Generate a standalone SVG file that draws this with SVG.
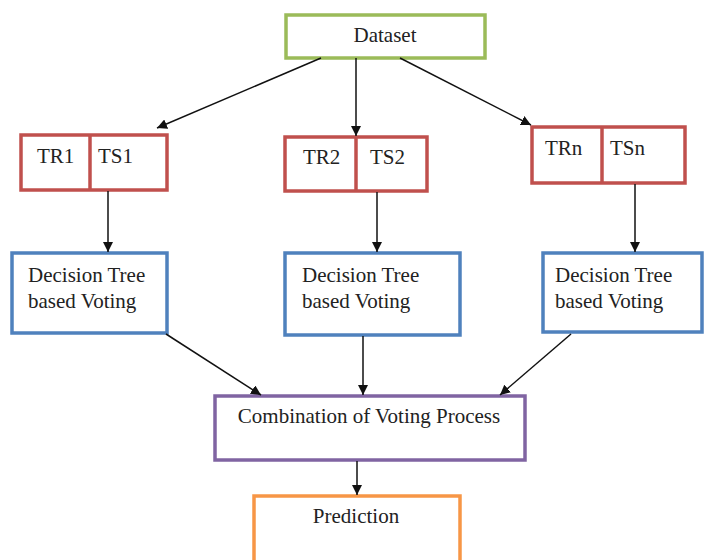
<svg xmlns="http://www.w3.org/2000/svg" width="705" height="560" viewBox="0 0 705 560">
<style>
.box{fill:#fff;stroke-width:3.5}
.g{stroke:#9BBB59}.r{stroke:#C0504D}.b{stroke:#4F81BD}.p{stroke:#8064A2}.o{stroke:#F79646}
text{font-family:"Liberation Serif","Times New Roman",serif;font-size:21px;fill:#222}
.c line{stroke:#111;stroke-width:1.5;marker-end:url(#ah)}
</style>
<defs>
<marker id="ah" viewBox="0 0 10 10" refX="10" refY="5" markerWidth="10" markerHeight="10" markerUnits="userSpaceOnUse" orient="auto">
<path d="M0,0 L10,5 L0,10 z" fill="#111"/>
</marker>
</defs>
<rect width="705" height="560" fill="#fff"/>
<g id="dataset"><rect class="box g" x="286" y="15" width="199" height="43"/><text x="385" y="42" text-anchor="middle">Dataset</text></g>
<g id="split1"><rect class="box r" x="21" y="135" width="146" height="55"/><line x1="90" y1="135" x2="90" y2="190" class="r" stroke-width="3.5"/><text x="37" y="163">TR1</text><text x="98" y="163">TS1</text></g>
<g id="split2"><rect class="box r" x="285" y="137" width="142" height="54"/><line x1="356" y1="137" x2="356" y2="191" class="r" stroke-width="3.5"/><text x="303" y="164">TR2</text><text x="370" y="164">TS2</text></g>
<g id="splitn"><rect class="box r" x="532" y="127" width="153" height="56"/><line x1="602" y1="127" x2="602" y2="183" class="r" stroke-width="3.5"/><text x="545" y="155">TRn</text><text x="610" y="155">TSn</text></g>
<g id="dt1"><rect class="box b" x="12" y="253" width="155" height="80"/><text x="28" y="282">Decision Tree</text><text x="28" y="308">based Voting</text></g>
<g id="dt2"><rect class="box b" x="285" y="253" width="175" height="82"/><text x="302" y="282">Decision Tree</text><text x="302" y="308">based Voting</text></g>
<g id="dtn"><rect class="box b" x="543" y="253" width="159" height="79"/><text x="555" y="282">Decision Tree</text><text x="555" y="308">based Voting</text></g>
<g id="combine"><rect class="box p" x="215" y="396" width="310" height="64"/><text x="369" y="423" text-anchor="middle" font-size="22">Combination of Voting Process</text></g>
<g id="prediction"><rect class="box o" x="254" y="496" width="206" height="72"/><text x="356" y="523" text-anchor="middle">Prediction</text></g>
<g id="connectors" class="c">
<line x1="321" y1="58" x2="157" y2="128"/>
<line x1="356" y1="58" x2="356" y2="136"/>
<line x1="400" y1="58" x2="531" y2="125"/>
<line x1="108" y1="191" x2="108" y2="252"/>
<line x1="377" y1="192" x2="377" y2="252"/>
<line x1="635" y1="184" x2="635" y2="252"/>
<line x1="166" y1="334" x2="261" y2="395"/>
<line x1="363" y1="336" x2="363" y2="395"/>
<line x1="571" y1="334" x2="500" y2="395"/>
<line x1="357" y1="461" x2="357" y2="495"/>
</g>
</svg>
